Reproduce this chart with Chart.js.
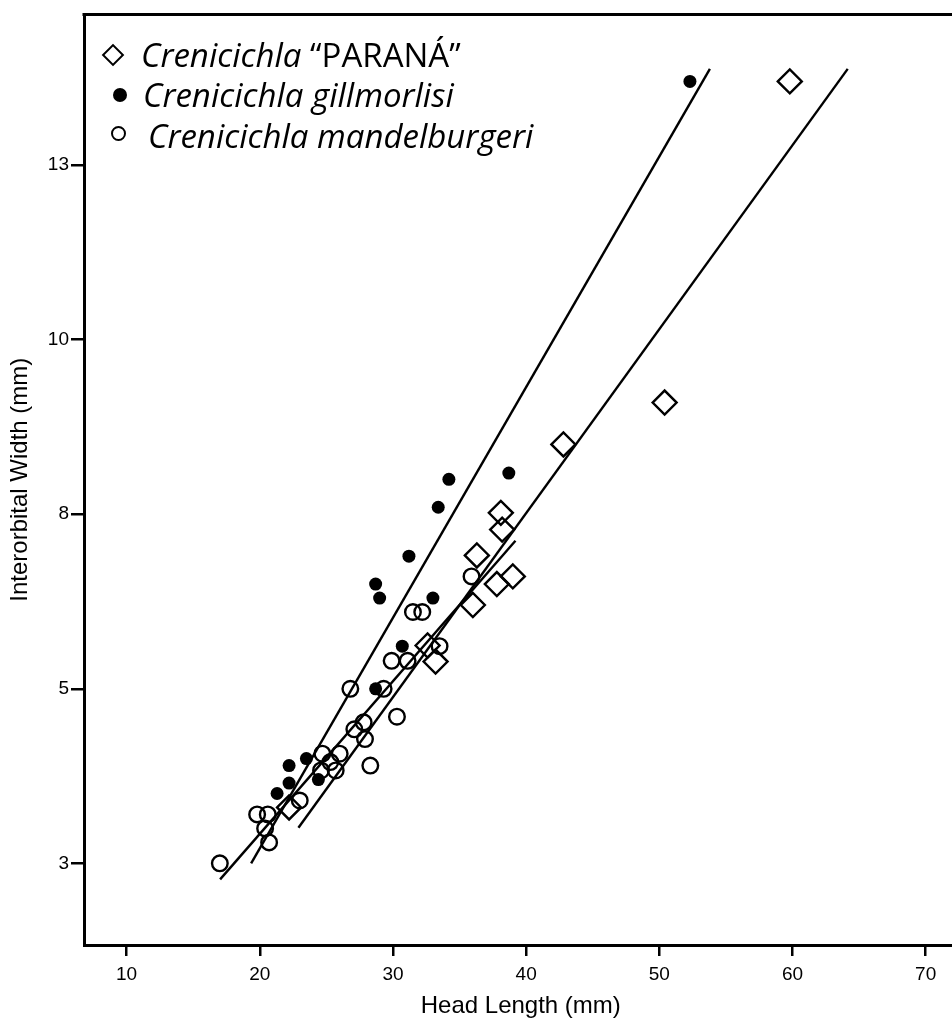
<!DOCTYPE html>
<html>
<head>
<meta charset="utf-8">
<title>Interorbital width vs head length</title>
<script src="https://cdn.jsdelivr.net/npm/chart.js@4.4.1/dist/chart.umd.min.js"></script>
<style>
  html, body { margin: 0; padding: 0; background: #fff; overflow: hidden; }
  #wrap { position: relative; width: 972px; height: 1023px; }
  #legend { position: absolute; left: 0; top: 0; font-family: 'Open Sans', sans-serif; font-size: 33px; color: #000; }
  .row { position: absolute; white-space: nowrap; line-height: 1; }
  .row i { font-style: italic; }
  .sym { position: absolute; box-sizing: border-box; }
  .diamond { width: 16px; height: 16px; border: 2px solid #000; transform: rotate(45deg); }
  .dot { width: 14px; height: 14px; border-radius: 50%; background: #000; }
  .ring { width: 15px; height: 15px; border-radius: 50%; border: 2px solid #000; }
</style>
</head>
<body>
<div id="wrap">
  <canvas id="chart" width="972" height="1023"></canvas>
  <div id="legend">
    <div class="sym diamond" style="left:105px; top:47px;"></div>
    <div class="row" style="left:141px; top:38px;"><i>Crenicichla</i> “PARANÁ”</div>
    <div class="sym dot" style="left:113px; top:88px;"></div>
    <div class="row" style="left:143px; top:78px;"><i>Crenicichla gillmorlisi</i></div>
    <div class="sym ring" style="left:111px; top:126px;"></div>
    <div class="row" style="left:148px; top:119px;"><i>Crenicichla mandelburgeri</i></div>
  </div>
</div>
<script>
// head length (mm) / interorbital width (mm)
const paranaHL = [59.8, 50.4, 42.8, 38.1, 38.2, 36.3, 37.8, 39.0, 36.0, 33.2, 32.6, 22.2];
const paranaIW = [13.7, 9.1, 8.5, 7.52, 7.28, 6.91, 6.5, 6.61, 6.2, 5.39, 5.62, 3.3];

const gillHL = [52.3, 38.7, 34.2, 33.4, 31.2, 28.7, 29.0, 33.0, 30.7, 28.7, 23.5, 22.2, 21.3, 22.2, 24.4];
const gillIW = [13.7, 8.09, 8.0, 7.6, 6.9, 6.5, 6.3, 6.3, 5.61, 5.0, 4.0, 3.9, 3.5, 3.65, 3.7];

const mandelHL = [17.0, 19.8, 20.6, 20.4, 20.7, 23.0, 24.6, 24.7, 25.3, 25.7, 26.0, 27.1, 27.8, 27.9,
                  28.3, 26.8, 29.3, 30.3, 29.9, 31.1, 33.5, 31.5, 32.2, 35.9];
const mandelIW = [2.5, 3.2, 3.2, 3.0, 2.8, 3.4, 3.83, 4.07, 3.95, 3.83, 4.07, 4.42, 4.52, 4.28,
                  3.9, 5.0, 5.0, 4.6, 5.4, 5.4, 5.61, 6.1, 6.1, 6.61];

// fitted lines (end points)
const fitParanaHL = [22.9, 64.15];
const fitParanaIW = [3.01, 13.88];
const fitGillHL = [19.35, 53.8];
const fitGillIW = [2.5, 13.88];
const fitMandelHL = [17.02, 39.2];
const fitMandelIW = [2.27, 7.12];

const xTickValues = [10, 20, 30, 40, 50, 60, 70];
const yTickValues = [2.5, 5, 7.5, 10, 12.5];
const yTickLabels = ['3', '5', '8', '10', '13'];

const toPoints = (xs, ys) => xs.map((x, i) => ({ x: x, y: ys[i] }));

const frameTop = {
    id: 'frameTop',
    afterDraw(chart) {
        const { ctx, chartArea } = chart;
        ctx.save();
        ctx.strokeStyle = '#000';
        ctx.lineWidth = 3;
        ctx.beginPath();
        ctx.moveTo(chartArea.left - 1.5, chartArea.top);
        ctx.lineTo(chartArea.right, chartArea.top);
        ctx.stroke();
        ctx.restore();
    }
};

const fitLine = (xs, ys) => ({
    data: toPoints(xs, ys),
    showLine: true,
    borderColor: '#000',
    borderWidth: 2.4,
    pointRadius: 0,
    fill: false
});

const tickFont = { family: "'Liberation Sans', Arial, sans-serif", size: 19 };
const titleFont = { family: "'Liberation Sans', Arial, sans-serif", size: 24 };

new Chart(document.getElementById('chart').getContext('2d'), {
    type: 'scatter',
    data: {
        datasets: [
            fitLine(fitParanaHL, fitParanaIW),
            fitLine(fitGillHL, fitGillIW),
            fitLine(fitMandelHL, fitMandelIW),
            {
                label: 'Crenicichla “PARANÁ”',
                data: toPoints(paranaHL, paranaIW),
                pointStyle: 'rectRot',
                pointRadius: 12,
                borderColor: '#000',
                borderWidth: 2.4,
                backgroundColor: 'rgba(0,0,0,0)'
            },
            {
                label: 'Crenicichla gillmorlisi',
                data: toPoints(gillHL, gillIW),
                pointStyle: 'circle',
                pointRadius: 6.5,
                borderWidth: 0,
                backgroundColor: '#000'
            },
            {
                label: 'Crenicichla mandelburgeri',
                data: toPoints(mandelHL, mandelIW),
                pointStyle: 'circle',
                pointRadius: 7.8,
                borderColor: '#000',
                borderWidth: 2.4,
                backgroundColor: 'rgba(0,0,0,0)'
            }
        ]
    },
    options: {
        responsive: false,
        animation: false,
        events: [],
        layout: { padding: { top: 12, left: 0, right: 0, bottom: 0 } },
        plugins: {
            legend: { display: false },
            tooltip: { enabled: false }
        },
        scales: {
            x: {
                type: 'linear',
                min: 6.8,
                max: 72.4,
                afterBuildTicks: (scale) => { scale.ticks = xTickValues.map(v => ({ value: v })); },
                afterFit: (scale) => { scale.height = 78; },
                ticks: { color: '#000', font: tickFont, padding: 7, maxRotation: 0, callback: (v) => String(v) },
                grid: { drawOnChartArea: false, drawTicks: true, tickLength: 11, color: '#000', lineWidth: 2.5 },
                border: { display: true, color: '#000', width: 3 },
                title: { display: true, text: 'Head Length (mm)', color: '#000', font: titleFont, padding: { top: 0, bottom: 2 } }
            },
            y: {
                type: 'linear',
                min: 1.33,
                max: 14.66,
                afterBuildTicks: (scale) => { scale.ticks = yTickValues.map(v => ({ value: v })); },
                afterFit: (scale) => { scale.width = 84; },
                ticks: {
                    color: '#000', font: tickFont, padding: 2,
                    callback: (v) => yTickLabels[yTickValues.indexOf(v)]
                },
                grid: { drawOnChartArea: false, drawTicks: true, tickLength: 13, color: '#000', lineWidth: 2.5 },
                border: { display: true, color: '#000', width: 3 },
                title: { display: true, text: 'Interorbital Width (mm)', color: '#000', font: titleFont, padding: { top: 6, bottom: 0 } }
            }
        }
    },
    plugins: [frameTop]
});
</script>
</body>
</html>
